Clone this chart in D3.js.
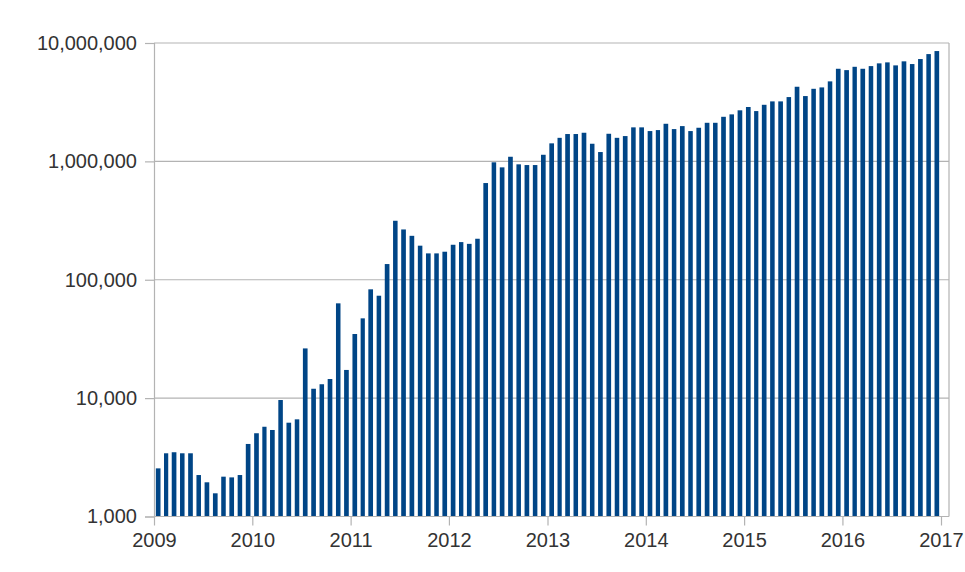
<!DOCTYPE html>
<html lang="en">
<head>
    <meta charset="UTF-8">
    <title>Monthly bars, log scale</title>
    <style>
        body {
            margin: 0;
            padding: 0;
            background: #fff;
        }

        #chart text {
            font-family: "Liberation Sans", Arial, sans-serif;
            font-size: 20px;
            fill: #333;
        }
    </style>
</head>
<body>
<svg id="chart"></svg>

<script src="https://d3js.org/d3.v7.min.js"></script>
<script>
    // monthly values, Jan..Dec
    var v2009 = [2550, 3420, 3490, 3420, 3420, 2240, 1945, 1570, 2170, 2140, 2240, 4100];
    var v2010 = [5050, 5730, 5380, 9640, 6200, 6620, 26300, 12000, 13100, 14500, 63200, 17300];
    var v2011 = [34800, 47200, 83000, 73300, 135700, 315000, 266000, 235000, 194000, 167000, 167000, 172500];
    var v2012 = [197500, 208000, 201000, 222000, 656000, 982000, 890000, 1094000, 944000, 931000, 931000, 1137000];
    var v2013 = [1420000, 1581000, 1702000, 1702000, 1745000, 1409000, 1199000, 1711000, 1581000, 1636000, 1938000, 1938000];
    var v2014 = [1803000, 1838000, 2078000, 1874000, 1986000, 1803000, 1923000, 2118000, 2118000, 2380000, 2495000, 2700000];
    var v2015 = [2880000, 2660000, 3006000, 3212000, 3212000, 3493000, 4270000, 3562000, 4103000, 4215000, 4740000, 6057000];
    var v2016 = [5900000, 6295000, 6057000, 6380000, 6730000, 6860000, 6470000, 7000000, 6640000, 7320000, 8060000, 8550000];

    var years = [2009, 2010, 2011, 2012, 2013, 2014, 2015, 2016];
    var yearTicks = [2009, 2010, 2011, 2012, 2013, 2014, 2015, 2016, 2017];
    var yTicks = [1000, 10000, 100000, 1000000, 10000000];

    var byYear = [v2009, v2010, v2011, v2012, v2013, v2014, v2015, v2016];
    var data = [];
    years.forEach(function (yr, i) {
        byYear[i].forEach(function (v, m) {
            data.push({ date: new Date(yr, m, 1), value: v });
        });
    });

    var W = 965, H = 572;
    var margin = { top: 43, left: 154 };
    var plotW = 795, plotH = 473.5;
    var axisW = 787; // 2009 .. 2017

    var svg = d3.select("#chart")
        .attr("width", W)
        .attr("height", H);

    var g = svg.append("g")
        .attr("transform", "translate(" + margin.left + "," + margin.top + ")");

    var x = d3.scaleTime()
        .domain([new Date(2009, 0, 1), new Date(2017, 0, 1)])
        .range([0, axisW]);

    var y = d3.scaleLog()
        .domain([1000, 10000000])
        .range([plotH, 0]);

    // grid
    g.selectAll(".grid")
        .data(yTicks)
        .enter().append("line")
        .attr("x1", 0)
        .attr("x2", plotW)
        .attr("y1", d => y(d))
        .attr("y2", d => y(d))
        .attr("stroke", "#b3b3b3")
        .attr("stroke-width", 1.2);

    // right border
    g.append("line")
        .attr("x1", plotW).attr("x2", plotW)
        .attr("y1", 0).attr("y2", plotH)
        .attr("stroke", "#b3b3b3")
        .attr("stroke-width", 1.2);

    // bars
    g.selectAll(".bar")
        .data(data)
        .enter().append("rect")
        .attr("x", function (d) {
            var x0 = x(d.date), x1 = x(d3.timeMonth.offset(d.date, 1));
            return x0 + (x1 - x0) * 0.22;
        })
        .attr("width", function (d) {
            var x0 = x(d.date), x1 = x(d3.timeMonth.offset(d.date, 1));
            return (x1 - x0) * 0.56;
        })
        .attr("y", d => y(d.value))
        .attr("height", d => plotH - y(d.value))
        .attr("fill", "#004586");

    // y axis
    var yAxis = g.append("g")
        .call(d3.axisLeft(y).tickValues(yTicks).tickFormat(d3.format(",")).tickSize(9).tickPadding(8));
    yAxis.select(".domain").attr("stroke", "#b3b3b3").attr("stroke-width", 1.2);
    yAxis.selectAll(".tick line").attr("stroke", "#b3b3b3").attr("stroke-width", 1.2);
    yAxis.selectAll("text").attr("fill", "#333").style("font-size", "20px");

    // x axis
    var xAxis = g.append("g")
        .attr("transform", "translate(0," + plotH + ")")
        .call(d3.axisBottom(x)
            .tickValues(yearTicks.map(t => new Date(t, 0, 1)))
            .tickFormat(d3.timeFormat("%Y"))
            .tickSize(9).tickPadding(7));
    xAxis.select(".domain").attr("stroke", "#b3b3b3").attr("stroke-width", 1.2)
        .attr("d", "M0,0H" + plotW);
    xAxis.selectAll(".tick line").attr("stroke", "#b3b3b3").attr("stroke-width", 1.2);
    xAxis.selectAll("text").attr("fill", "#333").style("font-size", "20px");
</script>
</body>
</html>
